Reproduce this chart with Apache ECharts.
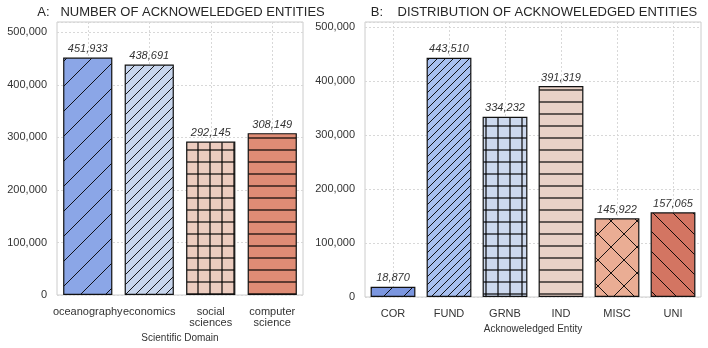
<!DOCTYPE html>
<html>
<head>
<meta charset="utf-8">
<script src="https://cdn.jsdelivr.net/npm/echarts@6/dist/echarts.min.js"></script>
<style>
  html, body { margin: 0; padding: 0; background: #fff; }
  #chart { width: 708px; height: 348px; }
</style>
</head>
<body>
<div id="chart"></div>
<script>
// panel A
const domains = ['oceanography', 'economics', 'social\nsciences', 'computer\nscience'];
const domainCounts = [451933, 438691, 292145, 308149];
// panel B
const entities = ['COR', 'FUND', 'GRNB', 'IND', 'MISC', 'UNI'];
const entityCounts = [18870, 443510, 334232, 391319, 145922, 157065];

const domainColors = ['#8ba6e7', '#c8d6ee', '#ecccbf', '#df8c75'];
const domainHatch = [['/', 25], ['/', 10], ['+', 12], ['-', 12]];
const entityColors = ['#7b96df', '#a8c0f0', '#cdd9ee', '#e9d2c7', '#eaad94', '#d37562'];
const entityHatch = [['/', 20], ['/', 8], ['+', 12], ['-', 12], ['x', 26], ['\\', 20]];

// build a small tile canvas: fill colour + hatch lines
function hatch(bg, kind, s) {
  const c = document.createElement('canvas');
  c.width = s; c.height = s;
  const g = c.getContext('2d');
  g.fillStyle = bg;
  g.fillRect(0, 0, s, s);
  g.strokeStyle = 'rgba(0,0,0,0.9)';
  g.lineWidth = 1;
  const diag = (sign) => {
    for (let k = -1; k <= 1; k++) {
      g.beginPath();
      if (sign > 0) { // "/"
        g.moveTo(-2, s + k * s + 2); g.lineTo(s + 2, k * s - 2);
      } else {        // "\"
        g.moveTo(-2, k * s - 2); g.lineTo(s + 2, s + k * s + 2);
      }
      g.stroke();
    }
  };
  g.fillStyle = 'rgba(0,0,0,0.58)';
  if (kind === '/') diag(1);
  if (kind === '\\') diag(-1);
  if (kind === 'x') { diag(1); diag(-1); }
  if (kind === '-' || kind === '+') g.fillRect(0, Math.floor(s / 2) - 1, s, 2);
  if (kind === '+') g.fillRect(Math.floor(s / 2) - 1, 0, 2, s);
  return { image: c, repeat: 'repeat' };
}

const font = 'Liberation Sans, Arial, sans-serif';
const grid = { lineStyle: { color: '#d8d8d8', type: [2, 2], width: 1 } };

function items(vals, colors, hatches) {
  return vals.map((v, i) => ({
    value: v,
    itemStyle: { color: hatch(colors[i], hatches[i][0], hatches[i][1]) }
  }));
}

const barBase = {
  type: 'bar',
  barCategoryGap: '20%',
  itemStyle: { borderColor: '#111', borderWidth: 1.2 },
  label: {
    show: true, position: 'top', distance: 3,
    fontFamily: font, fontSize: 11, fontStyle: 'italic', color: '#333',
    formatter: p => p.value.toLocaleString('en-US')
  },
  animation: false
};

const chart = echarts.init(document.getElementById('chart'), null, { renderer: 'canvas' });
chart.setOption({
  animation: false,
  textStyle: { fontFamily: font },
  graphic: [
    { type: 'text', x: 181, y: 12, style: { text: 'A:   NUMBER OF ACKNOWELEDGED ENTITIES', font: '13px ' + font, fill: '#262626', textAlign: 'center', textVerticalAlign: 'middle' } },
    { type: 'text', x: 534, y: 12, style: { text: 'B:    DISTRIBUTION OF ACKNOWELEDGED ENTITIES', font: '13px ' + font, fill: '#262626', textAlign: 'center', textVerticalAlign: 'middle' } }
  ],
  grid: [
    { left: 57, right: 405, top: 22, bottom: 51, show: true, borderColor: '#cccccc', borderWidth: 1 },
    { left: 365, right: 7, top: 22, bottom: 51, show: true, borderColor: '#cccccc', borderWidth: 1 }
  ],
  xAxis: [
    {
      type: 'category', gridIndex: 0, data: domains,
      name: 'Scientific Domain', nameLocation: 'middle', nameGap: 38,
      nameTextStyle: { fontSize: 10, color: '#333', fontFamily: font },
      axisLine: { show: false }, axisTick: { show: false },
      axisLabel: { fontSize: 11, color: '#333', margin: 11, lineHeight: 11, interval: 0, fontFamily: font },
      splitLine: Object.assign({ show: true, alignWithLabel: true }, grid)
    },
    {
      type: 'category', gridIndex: 1, data: entities,
      name: 'Acknoweledged Entity', nameLocation: 'middle', nameGap: 25,
      nameTextStyle: { fontSize: 10, color: '#333', fontFamily: font },
      axisLine: { show: false }, axisTick: { show: false },
      axisLabel: { fontSize: 11, color: '#333', margin: 11, interval: 0, fontFamily: font },
      splitLine: Object.assign({ show: true, alignWithLabel: true }, grid)
    }
  ],
  yAxis: [
    {
      type: 'value', gridIndex: 0, min: 0, max: 519723, interval: 100000,
      axisLine: { show: false }, axisTick: { show: false },
      axisLabel: { fontSize: 11, color: '#333', margin: 10, showMaxLabel: false, fontFamily: font },
      splitLine: grid
    },
    {
      type: 'value', gridIndex: 1, min: 0, max: 510037, interval: 100000,
      axisLine: { show: false }, axisTick: { show: false },
      axisLabel: { fontSize: 11, color: '#333', margin: 10, showMaxLabel: false, fontFamily: font },
      splitLine: grid
    }
  ],
  series: [
    Object.assign({}, barBase, { xAxisIndex: 0, yAxisIndex: 0, data: items(domainCounts, domainColors, domainHatch) }),
    Object.assign({}, barBase, { xAxisIndex: 1, yAxisIndex: 1, data: items(entityCounts, entityColors, entityHatch) })
  ]
});
</script>
</body>
</html>
